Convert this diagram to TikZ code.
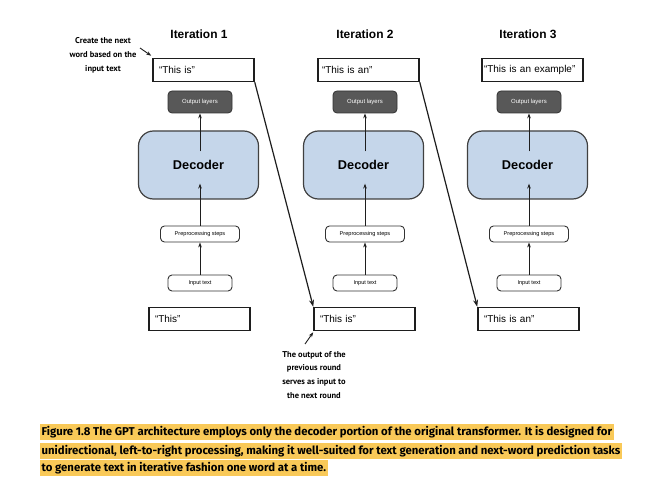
\documentclass[tikz,border=0pt]{standalone}
\usepackage{fontspec}
\setmainfont{Liberation Sans}
\newfontfamily\notefont{PT Sans}
\newfontfamily\capfont{Fira Sans}
\usetikzlibrary{arrows.meta}

\definecolor{decoderblue}{RGB}{197,214,234}
\definecolor{layergray}{RGB}{88,88,88}
\definecolor{capyellow}{RGB}{249,201,88}
\definecolor{ink}{RGB}{30,30,30}

\tikzset{
  arr/.style={-{Stealth[length=5bp,width=3.6bp]}, line width=0.9bp, draw=ink},
  longarr/.style={-{Stealth[length=7bp,width=5bp]}, line width=1.2bp, draw=ink},
  title/.style={font=\bfseries\fontsize{12}{14}\selectfont},
  textbox/.style={draw=ink, line width=1.5bp, text width=89bp, inner xsep=6bp,
    inner ysep=0pt, minimum height=23bp, align=left, font=\fontsize{10}{11}\selectfont},
  outlayer/.style={draw=black!80, fill=layergray, rounded corners=4bp, line width=0.8bp,
    minimum width=64bp, minimum height=22bp, inner sep=0pt, text=white,
    font=\fontsize{6}{7}\selectfont},
  decoderbox/.style={draw=black!75, fill=decoderblue, rounded corners=15bp, line width=1.2bp,
    minimum width=120bp, minimum height=68bp, inner sep=0pt,
    font=\bfseries\fontsize{12.8}{14}\selectfont},
  smallbox/.style={draw=black!80, rounded corners=4bp, line width=0.9bp,
    minimum height=16bp, inner sep=0pt, font=\fontsize{5.6}{6.5}\selectfont},
  note/.style={align=center, font=\notefont\bfseries\fontsize{8.5}{14}\selectfont},
  capline/.style={anchor=west, fill=capyellow, inner xsep=1.5bp, inner ysep=0pt,
    minimum height=16bp, font=\capfont\bfseries\fontsize{11.4}{12}\selectfont}
}

\begin{document}
\begin{tikzpicture}[x=1bp, y=-1bp]
\useasboundingbox[fill=white] (0,0) rectangle (645,489);

% column titles
\node[title] (t1) at (199,34) {Iteration 1};
\node[title] (t2) at (365,34) {Iteration 2};
\node[title] (t3) at (528,34) {Iteration 3};

% three iterations of the decoder pipeline
\foreach \i/\cx/\top/\bot/\opt in {1/200/{``This is''}/{``This''}/{},
                              2/365/{``This is an''}/{``This is''}/{text width=93bp, inner xsep=4bp},
                              3/529/{``This is an example''}/{``This is an''}/{text width=97bp, inner xsep=2bp}} {
  \node[textbox, style/.expand once=\opt] (top\i) at (\cx+3.5,70) {\top};
  \node[outlayer] (out\i) at (\cx,102) {Output layers};
  \node[decoderbox] (dec\i) at (\cx-1.5,165) {Decoder};
  \node[smallbox, minimum width=79bp] (pre\i) at (\cx,234) {Preprocessing steps};
  \node[smallbox, minimum width=64bp] (inp\i) at (\cx,283) {Input text};
  \node[textbox] (bot\i) at (\cx-0.5,319) {\bot};

  \draw[arr] ([xshift=1.5bp,yshift=-21bp]dec\i.north) -- (out\i.south);
  \draw[arr] (pre\i.north) -- ([xshift=1.5bp,yshift=16bp]dec\i.south);
  \draw[arr] (inp\i.north) -- (pre\i.south);
}

% output of one round feeds the next
\draw[longarr] (top1.south east) -- (bot2.north west);
\draw[longarr] (top2.south east) -- (bot3.north west);

% annotations
\node[note] (n1) at (103,55) {Create the next\\word based on the\\input text};
\coordinate (n1tip) at (140,48);
\draw[arr] (n1tip) -- ([xshift=-1bp,yshift=2bp]top1.north west);

\node[note] (n2) at (314,375) {The output of the\\previous round\\serves as input to\\the next round};
\coordinate (n2tip) at (305,344);
\draw[arr] (n2tip) -- ([yshift=-1bp]bot2.south west);

% caption
\node[capline] (c1) at (40,432) {Figure 1.8 The GPT architecture employs only the decoder portion of the original transformer. It is designed for};
\node[capline] (c2) at (40,451) {unidirectional, left-to-right processing, making it well-suited for text generation and next-word prediction tasks};
\node[capline] (c3) at (40,468) {to generate text in iterative fashion one word at a time.};
\end{tikzpicture}
\end{document}
